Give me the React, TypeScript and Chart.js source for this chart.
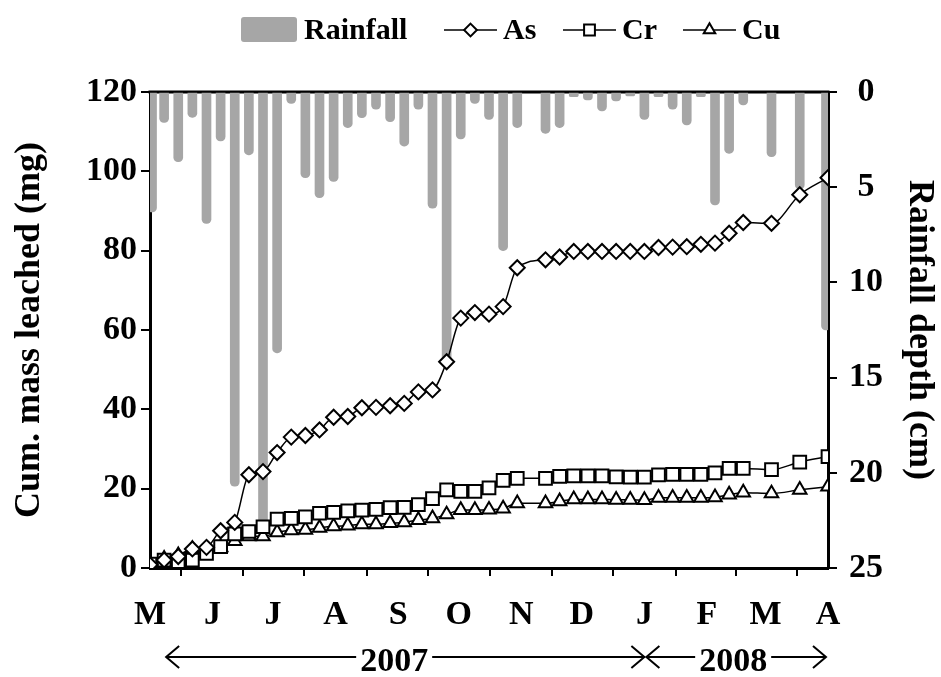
import React, { useEffect, useRef } from 'react';
import { Chart, registerables } from 'chart.js';

Chart.register(...registerables);

// ---- Data (days counted from 1 May 2007) ----
const sampleDays = [0, 7, 14, 21, 28, 35, 42, 49, 56, 63, 70, 77, 84, 91, 98, 105, 112, 119, 126, 133, 140, 147, 154, 161, 168, 175, 182, 196, 203, 210, 217, 224, 231, 238, 245, 252, 259, 266, 273, 280, 287, 294, 308, 322, 336];
const asValues = [0.8, 2.0, 2.9, 4.8, 5.2, 9.4, 11.5, 23.5, 24.3, 29.1, 33.0, 33.4, 34.8, 38.0, 38.2, 40.4, 40.5, 40.9, 41.5, 44.4, 44.9, 52.0, 63.0, 64.4, 64.0, 65.9, 75.7, 77.7, 78.4, 79.8, 79.8, 79.8, 79.8, 79.8, 79.8, 80.8, 80.9, 81.0, 81.6, 81.9, 84.4, 87.1, 86.9, 94.1, 98.4];
const crValues = [1.0, 2.0, 1.6, 2.0, 3.7, 5.4, 8.6, 9.2, 10.4, 12.3, 12.5, 12.9, 13.8, 14.0, 14.4, 14.6, 14.8, 15.2, 15.3, 16.0, 17.5, 19.7, 19.3, 19.3, 20.2, 22.1, 22.6, 22.6, 23.1, 23.2, 23.2, 23.2, 23.0, 22.9, 22.9, 23.5, 23.6, 23.6, 23.6, 24.0, 25.1, 25.1, 24.8, 26.7, 28.1];
const cuValues = [0.8, 2.3, 3.2, 4.8, 4.8, 5.2, 6.8, 8.0, 8.0, 9.0, 9.5, 9.6, 10.1, 10.5, 10.7, 11.0, 11.0, 11.3, 11.5, 12.1, 12.5, 13.5, 14.6, 14.6, 14.7, 15.0, 16.3, 16.3, 16.8, 17.3, 17.3, 17.3, 17.2, 17.2, 17.1, 17.7, 17.7, 17.7, 17.7, 17.8, 18.5, 19.0, 18.8, 19.7, 20.5];

const rainDays = [1, 7, 14, 21, 28, 35, 42, 49, 56, 63, 70, 77, 84, 91, 98, 105, 112, 119, 126, 133, 140, 147, 154, 161, 168, 175, 182, 196, 203, 210, 217, 224, 231, 238, 245, 252, 259, 266, 273, 280, 287, 294, 308, 322, 335];
const rainfall = [6.3, 1.6, 3.66, 1.33, 6.9, 2.57, 20.7, 3.3, 23.1, 13.7, 0.6, 4.5, 5.55, 4.7, 1.87, 1.35, 0.9, 1.56, 2.84, 0.9, 6.1, 14.3, 2.47, 0.6, 1.44, 8.33, 1.87, 2.17, 1.87, 0.25, 0.42, 1.0, 0.47, 0.2, 1.44, 0.25, 0.9, 1.73, 0.25, 5.93, 3.22, 0.68, 3.4, 5.1, 12.5];

const monthStartDays = [0, 31, 61, 92, 123, 153, 184, 214, 245, 276, 305, 336];
const monthLabels = ['M', 'J', 'J', 'A', 'S', 'O', 'N', 'D', 'J', 'F', 'M', 'A'];
const leftTicks = [0, 20, 40, 60, 80, 100, 120];
const rightTicks = [0, 5, 10, 15, 20, 25];
const yearLabels = ['2007', '2008'];
const yearFrom = [8, 246];
const yearTo = [245, 335];
const yearLabelAt = [121, 289];

const FAMILY = '"Liberation Serif", "Times New Roman", Times, serif';
const GRAY = '#a6a6a6';

function drawMarker(ctx: CanvasRenderingContext2D, style: string, x: number, y: number, r: number) {
  ctx.beginPath();
  if (style === 'rectRot') {
    ctx.moveTo(x, y - r);
    ctx.lineTo(x + r, y);
    ctx.lineTo(x, y + r);
    ctx.lineTo(x - r, y);
    ctx.closePath();
  } else if (style === 'rect') {
    const s = r * Math.SQRT1_2;
    ctx.rect(x - s, y - s, 2 * s, 2 * s);
  } else {
    ctx.moveTo(x, y - r);
    ctx.lineTo(x + r * 0.866, y + r * 0.5);
    ctx.lineTo(x - r * 0.866, y + r * 0.5);
    ctx.closePath();
  }
  ctx.fill();
  ctx.stroke();
}

const legendPlugin = {
  id: 'customLegend',
  afterDraw(chart: any) {
    const ctx: CanvasRenderingContext2D = chart.ctx;
    const ds = chart.data.datasets;
    const y = 30;
    ctx.save();
    ctx.font = `bold 30px ${FAMILY}`;
    ctx.textBaseline = 'middle';
    ctx.textAlign = 'left';
    // Rainfall box
    ctx.fillStyle = GRAY;
    ctx.beginPath();
    (ctx as any).roundRect ? (ctx as any).roundRect(241, 17, 56, 25, 3) : ctx.rect(241, 17, 56, 25);
    ctx.fill();
    ctx.fillStyle = '#000';
    ctx.fillText(ds[0].label, 304, y + 1);
    const lineStarts = [444, 563, 683];
    for (let i = 1; i <= 3; i++) {
      const x0 = lineStarts[i - 1];
      ctx.strokeStyle = '#000';
      ctx.lineWidth = 1.5;
      ctx.beginPath();
      ctx.moveTo(x0, y);
      ctx.lineTo(x0 + 53, y);
      ctx.stroke();
      ctx.fillStyle = '#fff';
      ctx.lineWidth = 2;
      drawMarker(ctx, ds[i].pointStyle, x0 + 26.5, y, ds[i].pointRadius * 0.85);
      ctx.fillStyle = '#000';
      ctx.fillText(ds[i].label, x0 + 59, y + 1);
    }
    ctx.restore();
  },
};

const framePlugin = {
  id: 'frameAndYears',
  beforeDatasetsDraw(chart: any) {
    const { ctx, chartArea } = chart;
    ctx.save();
    ctx.strokeStyle = '#000';
    ctx.lineWidth = 3;
    ctx.beginPath();
    ctx.moveTo(chartArea.left - 1.5, chartArea.top);
    ctx.lineTo(chartArea.right + 1.5, chartArea.top);
    ctx.stroke();
    ctx.restore();
  },
  afterDraw(chart: any) {
    const ctx: CanvasRenderingContext2D = chart.ctx;
    const xs = chart.scales.x;
    const y = 657;
    ctx.save();
    ctx.font = `bold 34px ${FAMILY}`;
    ctx.textBaseline = 'middle';
    ctx.textAlign = 'center';
    ctx.fillStyle = '#000';
    ctx.strokeStyle = '#000';
    ctx.lineWidth = 2;
    for (let i = 0; i < yearLabels.length; i++) {
      const x1 = xs.getPixelForValue(yearFrom[i]);
      const x2 = xs.getPixelForValue(yearTo[i]);
      const xc = xs.getPixelForValue(yearLabelAt[i]);
      const tw = ctx.measureText(yearLabels[i]).width;
      ctx.fillText(yearLabels[i], xc, y + 5);
      ctx.beginPath();
      ctx.moveTo(x1, y);
      ctx.lineTo(xc - tw / 2 - 4, y);
      ctx.moveTo(xc + tw / 2 + 4, y);
      ctx.lineTo(x2, y);
      // arrow heads
      ctx.moveTo(x1 + 13, y - 11);
      ctx.lineTo(x1, y);
      ctx.lineTo(x1 + 13, y + 11);
      ctx.moveTo(x2 - 13, y - 11);
      ctx.lineTo(x2, y);
      ctx.lineTo(x2 - 13, y + 11);
      ctx.stroke();
    }
    ctx.restore();
  },
};

const tickFont = { family: FAMILY, size: 34, weight: 'bold' as const };
const titleFont = { family: FAMILY, size: 36, weight: 'bold' as const };

export default function App() {
  const ref = useRef<HTMLCanvasElement | null>(null);

  useEffect(() => {
    if (!ref.current) return;
    const lineBase = {
      type: 'line' as const,
      xAxisID: 'x',
      yAxisID: 'y',
      borderColor: '#000',
      borderWidth: 1.5,
      pointBorderColor: '#000',
      pointBackgroundColor: '#fff',
      pointBorderWidth: 2,
      cubicInterpolationMode: 'monotone' as const,
      fill: false,
    };
    const chart = new Chart(ref.current, {
      type: 'line',
      data: {
        datasets: [
          {
            type: 'bar',
            label: 'Rainfall',
            data: rainDays.map((d, i) => ({ x: d, y: rainfall[i] })),
            xAxisID: 'x',
            yAxisID: 'y2',
            backgroundColor: GRAY,
            borderWidth: 0,
            barThickness: 9,
            borderRadius: 5,
            borderSkipped: 'start',
            order: 10,
          } as any,
          {
            ...lineBase,
            label: 'As',
            data: sampleDays.map((d, i) => ({ x: d, y: asValues[i] })),
            pointStyle: 'rectRot',
            pointRadius: 7.5,
            order: 1,
          },
          {
            ...lineBase,
            label: 'Cr',
            data: sampleDays.map((d, i) => ({ x: d, y: crValues[i] })),
            pointStyle: 'rect',
            pointRadius: 9,
            order: 2,
          },
          {
            ...lineBase,
            label: 'Cu',
            data: sampleDays.map((d, i) => ({ x: d, y: cuValues[i] })),
            pointStyle: 'triangle',
            pointRadius: 7.8,
            order: 3,
          },
        ],
      },
      options: {
        animation: false,
        responsive: true,
        maintainAspectRatio: false,
        layout: { padding: { top: 92, left: 0, right: 0, bottom: 0 } },
        plugins: { legend: { display: false }, tooltip: { enabled: false } },
        scales: {
          x: {
            type: 'linear',
            min: 0,
            max: 336,
            offset: false,
            afterBuildTicks: (s: any) => {
              s.ticks = monthStartDays.map((v) => ({ value: v }));
            },
            ticks: {
              callback: (v: any) => {
                const i = monthStartDays.indexOf(Number(v));
                return i >= 0 ? monthLabels[i] : '';
              },
              font: tickFont,
              color: '#000',
              padding: 19,
              maxRotation: 0,
              autoSkip: false,
            },
            grid: { drawOnChartArea: false, drawTicks: true, tickLength: 8, color: '#000', lineWidth: 2 },
            border: { color: '#000', width: 3 },
            afterFit: (s: any) => {
              s.height = 109;
            },
          },
          y: {
            type: 'linear',
            position: 'left',
            min: 0,
            max: 120,
            afterBuildTicks: (s: any) => {
              s.ticks = leftTicks.map((v) => ({ value: v }));
            },
            ticks: { font: tickFont, color: '#000', padding: 4 },
            grid: { drawOnChartArea: false, drawTicks: true, tickLength: 9, color: '#000', lineWidth: 2 },
            border: { color: '#000', width: 3 },
            title: {
              display: true,
              text: 'Cum. mass leached (mg)',
              font: titleFont,
              color: '#000',
              padding: { top: 8, bottom: 0 },
            },
            afterFit: (s: any) => {
              s.width = 150;
            },
          },
          y2: {
            type: 'linear',
            position: 'right',
            reverse: true,
            min: 0,
            max: 25,
            afterBuildTicks: (s: any) => {
              s.ticks = rightTicks.map((v) => ({ value: v }));
            },
            ticks: { font: tickFont, color: '#000', padding: 12, crossAlign: 'center' },
            grid: { drawOnChartArea: false, drawTicks: true, tickLength: 9, color: '#000', lineWidth: 2 },
            border: { color: '#000', width: 3 },
            title: {
              display: true,
              text: 'Rainfall depth (cm)',
              font: titleFont,
              color: '#000',
              padding: { top: 0, bottom: 0 },
            },
            afterFit: (s: any) => {
              s.width = 113;
            },
          },
        },
      },
      plugins: [legendPlugin, framePlugin],
    });
    return () => chart.destroy();
  }, []);

  return (
    <div style={{ position: 'fixed', left: 0, top: 0, width: 941, height: 677, background: '#fff' }}>
      <canvas ref={ref} />
    </div>
  );
}
